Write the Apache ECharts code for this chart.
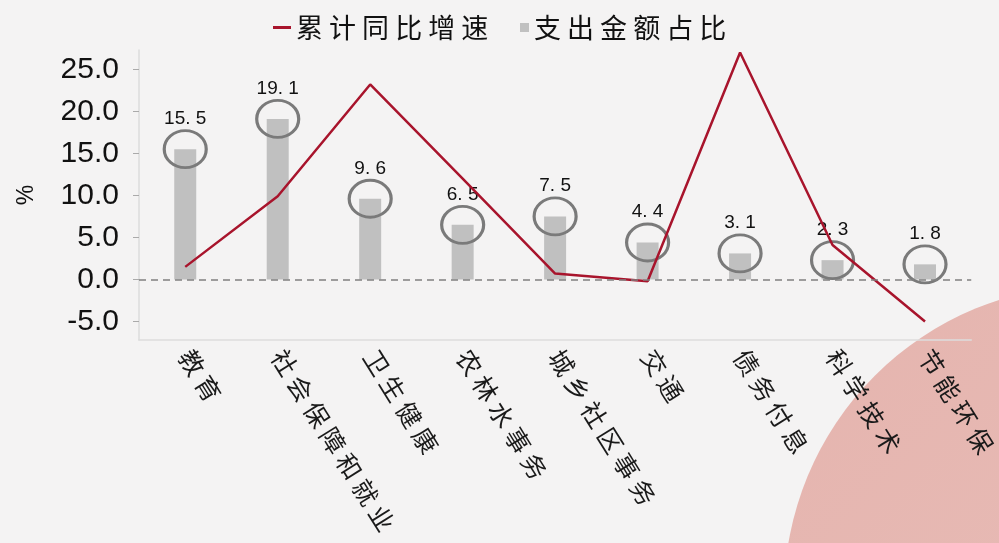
<!DOCTYPE html>
<html>
<head>
<meta charset="utf-8">
<script src="https://cdn.jsdelivr.net/npm/echarts@6/dist/echarts.min.js"></script>
<style>
  html, body { margin: 0; padding: 0; background: #f4f3f3; }
  #chart { width: 999px; height: 543px; }
</style>
</head>
<body>
<div id="chart"></div>
<script>
var categories = ['教育', '社会保障和就业', '卫生健康', '农林水事务', '城乡社区事务', '交通', '债务付息', '科学技术', '节能环保']
// 支出金额占比
var shareValues = [15.5, 19.1, 9.6, 6.5, 7.5, 4.4, 3.1, 2.3, 1.8]
// 累计同比增速
var growthValues = [1.5, 9.9, 23.2, 12.0, 0.7, -0.2, 27.0, 4.1, -5.0]
var yTicks = [-5, 0, 5, 10, 15, 20, 25]

var cjk = '"Noto Sans CJK SC", sans-serif'
var latin = '"Liberation Sans", Arial, sans-serif'

// the original uses a wide-spaced kai font, fake the tracking with spaces
var spaced = function (s) { return s.split('').join(' ') }

var chart = echarts.init(document.getElementById('chart'))

chart.setOption({
  backgroundColor: '#f4f3f3',
  animation: false,
  graphic: [{
    type: 'circle',
    silent: true,
    z: -10,
    shape: { cx: 1094, cy: 595, r: 310 },
    style: {
      fill: new echarts.graphic.LinearGradient(0, 0, 1, 1, [
        { offset: 0, color: '#e5b4ae' },
        { offset: 1, color: '#e9c0bb' }
      ])
    }
  }],
  legend: [{
    data: ['累计同比增速'],
    left: 268,
    top: 9,
    icon: 'rect',
    itemWidth: 18,
    itemHeight: 3,
    formatter: spaced,
    textStyle: { fontSize: 27, color: '#111', fontFamily: cjk }
  }, {
    data: ['支出金额占比'],
    left: 515,
    top: 9,
    icon: 'rect',
    itemWidth: 9,
    itemHeight: 9,
    formatter: spaced,
    textStyle: { fontSize: 27, color: '#111', fontFamily: cjk }
  }],
  grid: { left: 139, right: 26, top: 50, bottom: 203 },
  xAxis: {
    type: 'category',
    data: categories,
    axisTick: { show: false },
    axisLine: { onZero: false, lineStyle: { color: '#dddddd', width: 1.5 } },
    axisLabel: {
      interval: 0,
      rotate: -58,
      margin: 12,
      fontSize: 25,
      color: '#1a1a1a',
      fontFamily: cjk,
      formatter: spaced
    }
  },
  yAxis: {
    type: 'value',
    min: -7.2,
    max: 27.3,
    name: '%',
    nameLocation: 'middle',
    nameRotate: 90,
    nameGap: 101,
    nameTextStyle: { fontSize: 23, color: '#111', fontFamily: latin },
    splitLine: { show: false },
    axisLine: { show: true, lineStyle: { color: '#dddddd', width: 1.5 } },
    axisTick: {
      show: true,
      length: 6,
      customValues: yTicks,
      lineStyle: { color: '#aaaaaa' }
    },
    axisLabel: {
      customValues: yTicks,
      margin: 20,
      fontSize: 30,
      color: '#111',
      fontFamily: latin,
      formatter: function (v) { return v.toFixed(1) }
    }
  },
  series: [{
    name: '支出金额占比',
    type: 'bar',
    data: shareValues,
    barWidth: 22,
    z: 2,
    itemStyle: { color: '#c0c0c0' },
    markLine: {
      silent: true,
      symbol: 'none',
      label: { show: false },
      lineStyle: { color: '#808080', type: [7, 5], width: 1.5 },
      data: [{ yAxis: 0 }]
    }
  }, {
    name: 'circle',
    type: 'scatter',
    data: shareValues,
    z: 3,
    symbol: 'circle',
    symbolSize: [42, 37],
    itemStyle: { color: 'rgba(0,0,0,0)', borderColor: '#7a7a7a', borderWidth: 3, opacity: 1 },
    label: {
      show: true,
      position: 'top',
      distance: 1,
      fontSize: 19,
      color: '#111',
      fontFamily: latin,
      formatter: function (p) { return p.value.toFixed(1).replace('.', '. ') }
    }
  }, {
    name: '累计同比增速',
    type: 'line',
    data: growthValues,
    z: 4,
    symbol: 'none',
    lineStyle: { color: '#a8142c', width: 2.5 },
    itemStyle: { color: '#a8142c' }
  }]
})
</script>
</body>
</html>
